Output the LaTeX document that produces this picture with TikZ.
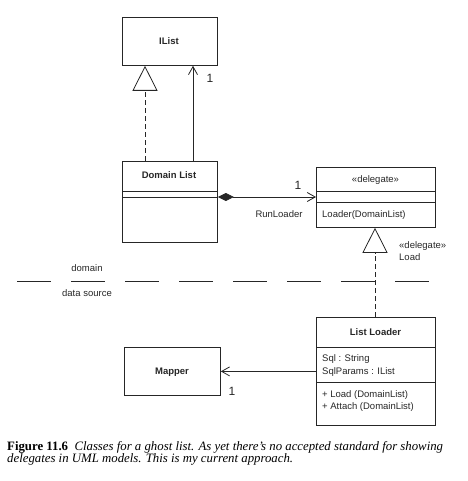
\documentclass[tikz,border=0pt]{standalone}
\usepackage{fontspec}
\setmainfont{Liberation Serif}
\setsansfont{Liberation Sans}
\usetikzlibrary{arrows.meta}
\definecolor{ink}{gray}{0.15}
\begin{document}
\begin{tikzpicture}[x=1pt,y=-1pt,
  box/.style={draw=ink, line width=0.8pt, inner sep=0pt, anchor=north west},
  lbl/.style={font=\sffamily\fontsize{9.5}{11}\selectfont, text=ink, inner sep=0pt, anchor=base},
  lbll/.style={lbl, anchor=base west},
  ttl/.style={lbl, font=\sffamily\bfseries\fontsize{9.5}{11}\selectfont},
  mult/.style={lbl, font=\sffamily\fontsize{12}{14}\selectfont},
  conn/.style={draw=ink, line width=0.8pt},
  dashconn/.style={conn, dash pattern=on 5pt off 3pt},
  gen/.style={-{Triangle[open, length=25pt, width=25pt]}},
  nav/.style={-{Straight Barb[length=8pt, width=9pt]}},
  comp/.style={{Diamond[length=16pt, width=8pt]}-{Straight Barb[length=8pt, width=9pt]}},
  captxt/.style={anchor=base west, inner sep=0pt, text=black, font=\fontsize{12.8}{14}\selectfont},
]
\useasboundingbox (0,0) rectangle (467,481);

% boxes
\node[box, minimum width=95pt, minimum height=48pt] (ilist) at (122,17) {};
\node[box, minimum width=95pt, minimum height=81pt] (domain) at (122,161) {};
\node[box, minimum width=119pt, minimum height=60pt] (delegate) at (316,167) {};
\node[box, minimum width=119pt, minimum height=108pt] (listloader) at (316,317) {};
\node[box, minimum width=96pt, minimum height=48pt] (mapper) at (124,347) {};

% compartment lines
\draw[conn] ([yshift=-30pt]domain.north west) -- ([yshift=-30pt]domain.north east);
\draw[conn] ([yshift=-36pt]domain.north west) -- ([yshift=-36pt]domain.north east);
\draw[conn] ([yshift=-24pt]delegate.north west) -- ([yshift=-24pt]delegate.north east);
\draw[conn] ([yshift=-35pt]delegate.north west) -- ([yshift=-35pt]delegate.north east);
\draw[conn] ([yshift=-30pt]listloader.north west) -- ([yshift=-30pt]listloader.north east);
\draw[conn] ([yshift=-65pt]listloader.north west) -- ([yshift=-65pt]listloader.north east);

% texts in boxes
\node[ttl] (tilist) at (169,44.5) {IList};
\node[ttl] (tdomain) at (169,178.5) {Domain List};
\node[lbl] (tdeleg) at (375.5,182.5) {«delegate»};
\node[lbll] (tloader) at (322,217.5) {Loader(DomainList)};
\node[ttl] (tll) at (375.5,335.5) {List Loader};
\node[lbll] (tsql) at (322,361.5) {Sql : String};
\node[lbll] (tsqlp) at (322,374.5) {SqlParams : IList};
\node[lbll] (tload) at (322,397.5) {+ Load (DomainList)};
\node[lbll] (tattach) at (322,409.5) {+ Attach (DomainList)};
\node[ttl] (tmapper) at (172,374.5) {Mapper};

% connectors
\draw[dashconn, gen] ([xshift=23pt]domain.north west) -- ([xshift=23pt]ilist.south west);
\draw[conn, nav] ([xshift=71pt]domain.north west) -- ([xshift=71pt]ilist.south west);
\draw[conn, comp] ([yshift=-36pt]domain.north east) -- ([yshift=-30pt]delegate.north west);
\draw[dashconn, gen] ([xshift=59pt]listloader.north west) -- ([xshift=59pt]delegate.south west);
\draw[conn, nav] (listloader.west) -- (mapper.east);

% connector labels
\node[mult] (m1) at (210,82.3) {1};
\node[mult] (m2) at (298,189.3) {1};
\node[mult] (m3) at (232,395.3) {1};
\node[lbl] (trun) at (279,217.5) {RunLoader};
\node[lbll] (tdl) at (399,248.5) {«delegate»};
\node[lbll] (tdll) at (399,260.5) {Load};

% layer separator
\draw[draw=ink, line width=1pt, dash pattern=on 34pt off 20pt] (17,281) -- (429,281);
\node[lbl] (tdomainlayer) at (87,271.5) {domain};
\node[lbl] (tds) at (87,296.5) {data source};

% caption
\node[captxt] (cap1) at (7,450)
  {\textbf{Figure 11.6}\ \ \textit{Classes for a ghost list. As yet there’s no accepted standard for showing}};
\node[captxt] (cap2) at (7,462.5)
  {\textit{delegates in UML models. This is my current approach.}};
\end{tikzpicture}
\end{document}
